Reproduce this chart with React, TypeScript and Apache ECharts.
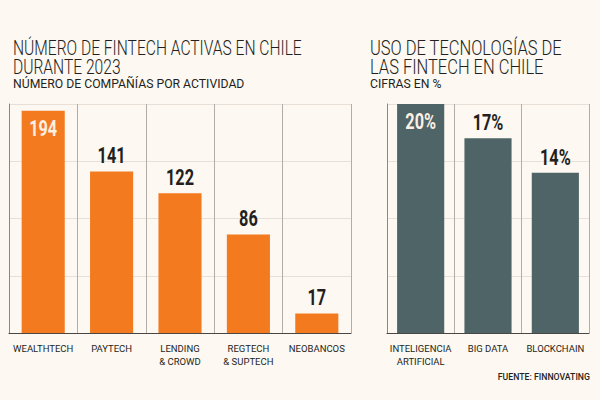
import React, { useEffect, useRef } from "react";
import * as echarts from "echarts";

// Fintech activity counts in Chile, 2023
const activityCategories = ["WEALTHTECH", "PAYTECH", "LENDING\n& CROWD", "REGTECH\n& SUPTECH", "NEOBANCOS"];
const activityValues = [194, 141, 122, 86, 17];

// Share of fintechs using each technology (%)
const techCategories = ["INTELIGENCIA\nARTIFICIAL", "BIG DATA", "BLOCKCHAIN"];
const techValues = [20, 17, 14];

const BG = "#fdf8f2";
const ORANGE = "#f47a20";
const SLATE = "#4e6466";
const INK = "#231f20";
const LABEL_FONT = "Roboto, 'Noto Sans', sans-serif";
const TITLE_FONT = "Roboto, 'Noto Sans', sans-serif";

function xAxisFor(idx: number, cats: string[]) {
  return {
    type: "category",
    gridIndex: idx,
    data: cats,
    axisTick: { show: false },
    axisLine: { show: true, lineStyle: { color: "#4a4644", width: 1.2 } },
    splitLine: { show: true, lineStyle: { color: "#b3ada7", width: 1 } },
    axisLabel: {
      interval: 0,
      margin: 9,
      color: INK,
      fontFamily: LABEL_FONT,
      fontSize: 9.5,
      lineHeight: 13,
    },
  };
}

function yAxisFor(idx: number, max: number, interval: number) {
  return {
    type: "value",
    gridIndex: idx,
    min: 0,
    max,
    interval,
    axisLabel: { show: false },
    axisTick: { show: false },
    axisLine: { show: true, lineStyle: { color: "#8d8782", width: 1 } },
    splitLine: { show: true, lineStyle: { color: "#e8e0d7", width: 1 } },
  };
}

// Condensed value labels: a custom series positions each text with the axis scale,
// the tallest bar gets its label inside the bar.
function valueLabels(idx: number, values: number[], suffix: string) {
  const max = Math.max(...values);
  return {
    type: "custom",
    xAxisIndex: idx,
    yAxisIndex: idx,
    silent: true,
    z: 10,
    data: values.map((v, i) => [i, v]),
    encode: { x: 0, y: 1 },
    renderItem: (_params: any, api: any) => {
      const v = api.value(1);
      const pt = api.coord([api.value(0), v]);
      const inside = v === max;
      return {
        type: "text",
        x: pt[0],
        y: inside ? pt[1] + 18 : pt[1] - 15.5,
        scaleX: 0.74,
        style: {
          text: `${v}${suffix}`,
          fill: inside ? "#fdf0e2" : INK,
          font: `bold 22px ${LABEL_FONT}`,
          align: "center",
          verticalAlign: "middle",
        },
      };
    },
  };
}

function titleText(text: string, x: number, y: number, size: number, scaleX: number, weight = 300) {
  return {
    type: "text",
    x,
    y,
    scaleX,
    style: {
      text,
      fill: INK,
      font: `${weight} ${size}px ${TITLE_FONT}`,
      verticalAlign: "top",
    },
  };
}

export default function App() {
  const ref = useRef<HTMLDivElement>(null);

  useEffect(() => {
    if (!ref.current) return;
    const chart = echarts.init(ref.current, null, { renderer: "svg" });
    chart.setOption({
      animation: false,
      backgroundColor: BG,
      grid: [
        { left: 9, top: 104, width: 342, height: 229 },
        { left: 387, top: 104, width: 202, height: 229 },
      ],
      xAxis: [xAxisFor(0, activityCategories), xAxisFor(1, techCategories)],
      yAxis: [yAxisFor(0, 200, 50), yAxisFor(1, 20, 5)],
      series: [
        {
          type: "bar",
          xAxisIndex: 0,
          yAxisIndex: 0,
          barWidth: "63%",
          itemStyle: { color: ORANGE },
          data: activityValues,
        },
        {
          type: "bar",
          xAxisIndex: 1,
          yAxisIndex: 1,
          barWidth: "70%",
          itemStyle: { color: SLATE },
          data: techValues,
        },
        valueLabels(0, activityValues, ""),
        valueLabels(1, techValues, "%"),
      ],
      graphic: [
        titleText("NÚMERO DE FINTECH ACTIVAS EN CHILE", 13, 38, 20, 0.78),
        titleText("DURANTE 2023", 13, 57, 20, 0.78),
        titleText("NÚMERO DE COMPAÑÍAS POR ACTIVIDAD", 13, 77, 13, 0.94, 400),
        titleText("USO DE TECNOLOGÍAS DE", 370, 38, 20, 0.824),
        titleText("LAS FINTECH EN CHILE", 370, 57, 20, 0.824),
        titleText("CIFRAS EN %", 370, 77, 13, 0.94, 400),
        {
          type: "text",
          x: 590,
          y: 377,
          scaleX: 0.92,
          style: {
            text: "FUENTE: FINNOVATING",
            fill: INK,
            font: `500 9.5px ${TITLE_FONT}`,
            align: "right",
            verticalAlign: "middle",
          },
        },
      ],
    });
    return () => chart.dispose();
  }, []);

  return (
    <div
      ref={ref}
      style={{ position: "absolute", left: 0, top: 0, width: 600, height: 400, background: BG }}
    />
  );
}
